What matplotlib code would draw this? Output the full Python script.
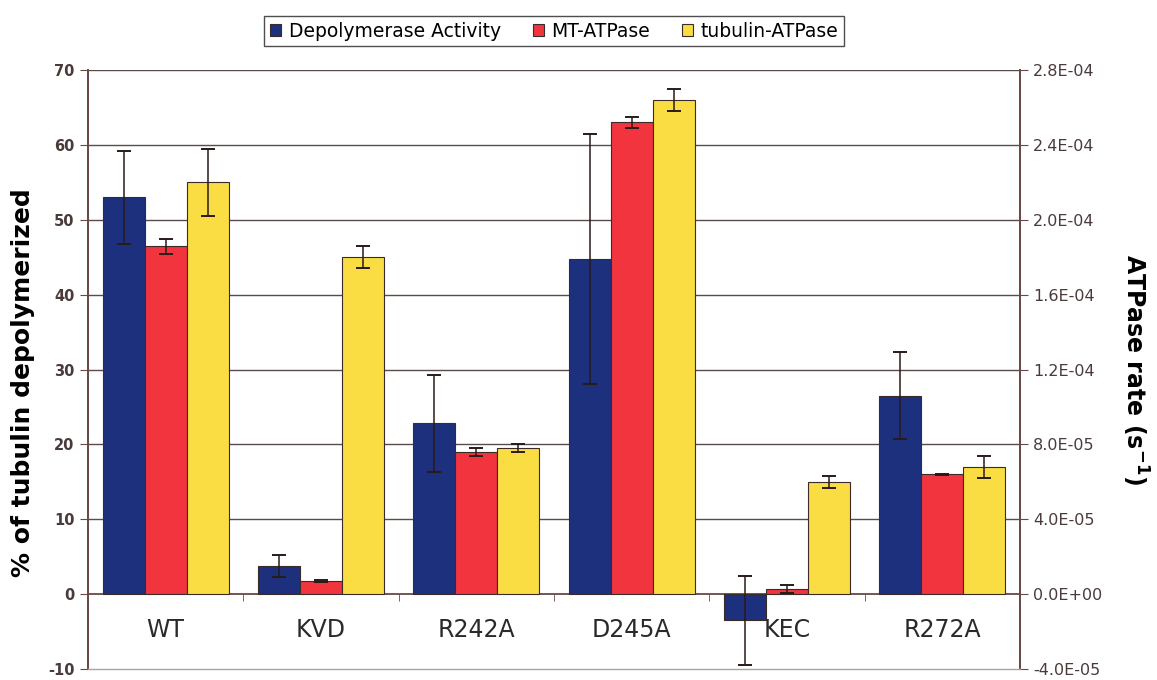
import numpy as np
import matplotlib
matplotlib.use('Agg')
import matplotlib.pyplot as plt
from matplotlib.ticker import FuncFormatter

plt.rcParams['axes.unicode_minus'] = False

categories = ['WT', 'KVD', 'R242A', 'D245A', 'KEC', 'R272A']

# % of tubulin depolymerized (left axis)
depoly = [53.0, 3.8, 22.8, 44.8, -3.5, 26.5]
depoly_err = [6.2, 1.5, 6.5, 16.7, 5.9, 5.8]

# ATPase rates, s^-1 (right axis)
mt_atpase = [1.86e-4, 0.72e-5, 7.6e-5, 2.52e-4, 0.28e-5, 6.4e-5]
mt_err = [0.04e-4, 0.05e-5, 0.2e-5, 0.03e-4, 0.2e-5, 0.04e-5]
tub_atpase = [2.20e-4, 1.80e-4, 7.8e-5, 2.64e-4, 6.0e-5, 6.8e-5]
tub_err = [0.18e-4, 0.06e-4, 0.2e-5, 0.06e-4, 0.3e-5, 0.6e-5]

C_BLUE = '#1d307e'
C_RED = '#f2343f'
C_YEL = '#f9dd42'
EDGE = '#3a2a2a'

fig = plt.figure(figsize=(11.57, 6.8), dpi=100)
ax = fig.add_axes([0.076, 0.016, 0.8056, 0.881])
ax2 = ax.twinx()

x = np.arange(len(categories))
w = 0.27
ekw = dict(elinewidth=1.1, capthick=1.4, ecolor='#2a1a1a')

b1 = ax.bar(x - w, depoly, w, color=C_BLUE, edgecolor=EDGE, linewidth=0.8,
            yerr=depoly_err, capsize=5, error_kw=ekw, zorder=3)
b2 = ax2.bar(x, mt_atpase, w, color=C_RED, edgecolor=EDGE, linewidth=0.8,
             yerr=mt_err, capsize=5, error_kw=ekw, zorder=3)
b3 = ax2.bar(x + w, tub_atpase, w, color=C_YEL, edgecolor=EDGE, linewidth=0.8,
             yerr=tub_err, capsize=5, error_kw=ekw, zorder=3)

ax.set_xlim(-0.5, len(categories) - 0.5)
ax.set_ylim(-10, 70)
ax2.set_ylim(-4e-5, 2.8e-4)
ax.set_yticks(np.arange(-10, 71, 10))
ax2.set_yticks(np.arange(-4e-5, 2.81e-4, 4e-5))
ax2.yaxis.set_major_formatter(FuncFormatter(lambda v, p: f'{v:.1E}'))

# gridlines
for v in np.arange(10, 71, 10):
    ax.axhline(v, color='#5a4a4a', linewidth=1.0, zorder=0)

line_col = '#6a4848'
for a in (ax, ax2):
    a.spines['top'].set_visible(False)
    a.spines['left'].set_color(line_col)
    a.spines['right'].set_color(line_col)
    a.spines['left'].set_linewidth(1.3)
    a.spines['right'].set_linewidth(1.3)
ax2.spines['bottom'].set_color('#b0a0a0')
ax2.spines['bottom'].set_linewidth(1.0)
ax.spines['bottom'].set_position(('data', 0))
ax.spines['bottom'].set_color(line_col)
ax.spines['bottom'].set_linewidth(1.3)

ax.set_xticks(x)
ax.set_xticklabels(categories, fontsize=17, color='#2a2a2a')
ax.set_xticks(np.arange(0.5, len(categories) - 0.5, 1), minor=True)
ax.tick_params(axis='x', which='major', length=0, pad=17)
ax.tick_params(axis='x', which='minor', length=5, color=line_col, direction='out')
ax.tick_params(axis='y', length=6, color=line_col, labelsize=10.5, labelcolor='#4a3a3a')
for t in ax.get_yticklabels():
    t.set_fontweight('bold')
ax2.tick_params(axis='y', length=6, color=line_col, labelsize=11.5, labelcolor='#4a3a3a')

ax.set_ylabel('% of tubulin depolymerized', fontsize=18, fontweight='bold')
ax.yaxis.set_label_coords(-0.057, 0.478)
ax2.set_ylabel('ATPase rate (s$^{\\mathbf{-1}}$)', fontsize=17, fontweight='bold',
               rotation=270, va='center')
ax2.yaxis.set_label_coords(1.124, 0.5)

leg = fig.legend([b1, b2, b3], ['Depolymerase Activity', 'MT-ATPase', 'tubulin-ATPase'],
                 loc='upper center', bbox_to_anchor=(0.479, 0.99), ncol=3, fontsize=13.5,
                 frameon=True, fancybox=False, edgecolor='#222222', handlelength=0.6,
                 handleheight=0.6, handletextpad=0.4, columnspacing=1.7, borderpad=0.3)
leg.get_frame().set_linewidth(1.0)

fig.savefig('out.png', dpi=100)
